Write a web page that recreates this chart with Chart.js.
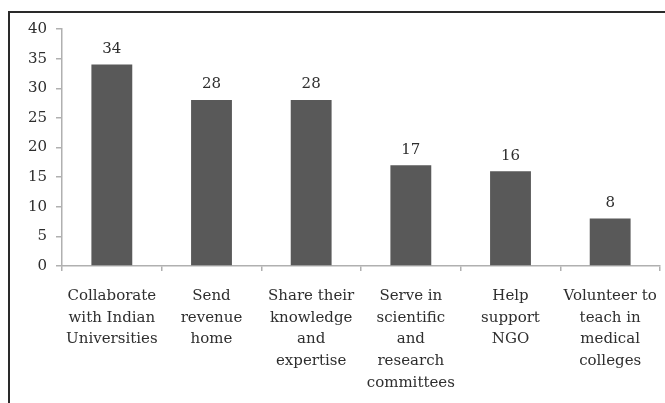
<!DOCTYPE html>
<html>
<head>
<meta charset="utf-8">
<script src="https://cdn.jsdelivr.net/npm/chart.js@4"></script>
<style>
  html, body { margin: 0; padding: 0; background: #fff; }
  #wrap { position: relative; width: 665px; height: 403px; overflow: hidden; }
  #frame { position: absolute; left: 8px; top: 11px; width: 700px; height: 420px;
           border-left: 2px solid #2a2a2a; border-top: 2px solid #2a2a2a; }
  canvas { position: absolute; left: 0; top: 0; }
</style>
</head>
<body>
<div id="wrap">
  <div id="frame"></div>
  <canvas id="chart" width="665" height="403"></canvas>
</div>
<script>
// Chart values
const categories = [
  ['Collaborate', 'with Indian', 'Universities'],
  ['Send', 'revenue', 'home'],
  ['Share their', 'knowledge', 'and', 'expertise'],
  ['Serve in', 'scientific', 'and', 'research', 'committees'],
  ['Help', 'support', 'NGO'],
  ['Volunteer to', 'teach in', 'medical', 'colleges']
];
const counts = [34, 28, 28, 17, 16, 8];
const yTicks = [0, 5, 10, 15, 20, 25, 30, 35, 40];

const fontFamily = '"DejaVu Serif", "Liberation Serif", serif';
const textColor = '#2e2e2e';
const axisColor = '#b0b0b0';

// draw the value above each bar
const barValues = {
  id: 'barValues',
  afterDatasetsDraw(chart) {
    const ctx = chart.ctx;
    const meta = chart.getDatasetMeta(0);
    ctx.save();
    ctx.font = '15px ' + fontFamily;
    ctx.fillStyle = textColor;
    ctx.textAlign = 'center';
    ctx.textBaseline = 'bottom';
    meta.data.forEach((bar, i) => {
      ctx.fillText(counts[i], bar.x, bar.y - 8);
    });
    ctx.restore();
  }
};

new Chart(document.getElementById('chart'), {
  type: 'bar',
  data: {
    labels: categories,
    datasets: [{
      data: counts,
      backgroundColor: '#595959',
      borderWidth: 0,
      categoryPercentage: 1,
      barPercentage: 0.41
    }]
  },
  options: {
    responsive: false,
    animation: false,
    layout: { padding: { top: 29, right: 5, left: 0, bottom: 0 } },
    plugins: { legend: { display: false }, tooltip: { enabled: false } },
    scales: {
      x: {
        afterFit(scale) {
          scale.height = 137;
          scale.paddingLeft = 0;
          scale.paddingRight = 0;
        },
        border: { color: axisColor, width: 1.5 },
        grid: { drawOnChartArea: false, tickLength: 5, color: axisColor, lineWidth: 1.5 },
        ticks: {
          color: textColor,
          font: { family: fontFamily, size: 15, lineHeight: 1.45 },
          padding: 14,
          maxRotation: 0,
          autoSkip: false
        }
      },
      y: {
        min: 0,
        max: 40,
        afterFit(scale) { scale.width = 62; },
        afterBuildTicks(scale) { scale.ticks = yTicks.map(v => ({ value: v })); },
        border: { color: axisColor, width: 1.5 },
        grid: { drawOnChartArea: false, tickLength: 6, color: axisColor, lineWidth: 1.5 },
        ticks: {
          color: textColor,
          font: { family: fontFamily, size: 15 },
          padding: 9
        }
      }
    }
  },
  plugins: [barValues]
});
</script>
</body>
</html>
